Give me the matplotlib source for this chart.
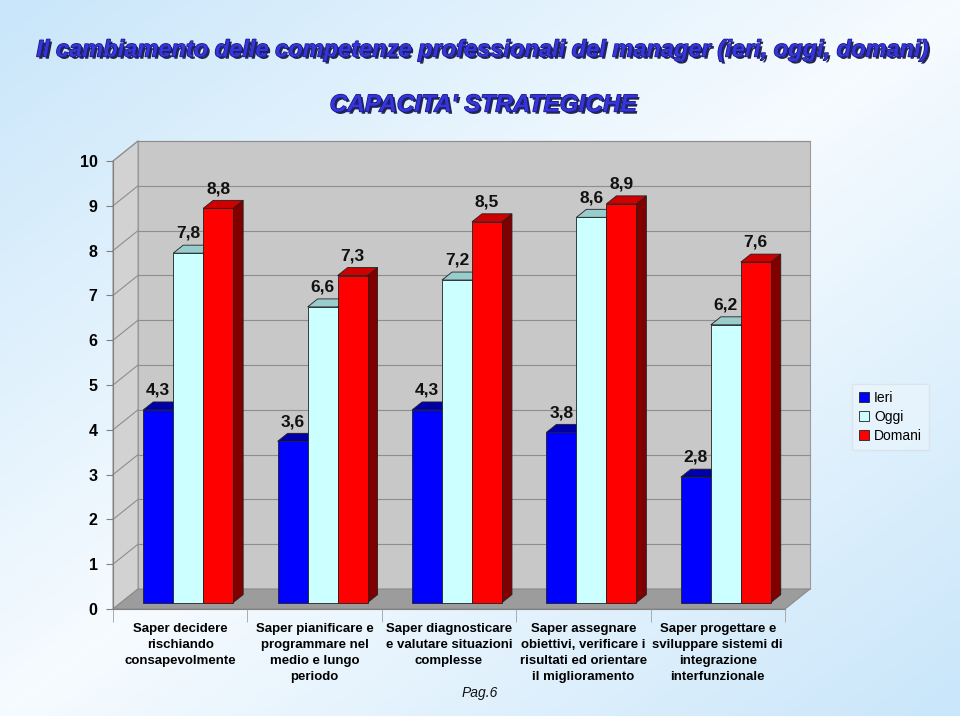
import numpy as np
import matplotlib.pyplot as plt
import matplotlib.patheffects as pe
from matplotlib.patches import Polygon
from matplotlib.colors import LinearSegmentedColormap

plt.rcParams['font.family'] = ['Liberation Sans', 'DejaVu Sans']

# Dati del grafico
categorie = ['Saper decidere\nrischiando\nconsapevolmente',
             'Saper pianificare e\nprogrammare nel\nmedio e lungo\nperiodo',
             'Saper diagnosticare\ne valutare situazioni\ncomplesse',
             'Saper assegnare\nobiettivi, verificare i\nrisultati ed orientare\nil miglioramento',
             'Saper progettare e\nsviluppare sistemi di\nintegrazione\ninterfunzionale']
serie = ['Ieri', 'Oggi', 'Domani']
ieri = [4.3, 3.6, 4.3, 3.8, 2.8]
oggi = [7.8, 6.6, 7.2, 8.6, 6.2]
domani = [8.8, 7.3, 8.5, 8.9, 7.6]
valori = [ieri, oggi, domani]

col_front = ['#0000ff', '#ccffff', '#ff0000']
col_top = ['#0000a8', '#99cccc', '#d00000']
col_side = ['#000080', '#6f9f9f', '#800000']

fig = plt.figure(figsize=(9.6, 7.16), dpi=100)

# sfondo sfumato
bg = fig.add_axes([0, 0, 1, 1], zorder=-10)
yy, xx = np.mgrid[0:1:200j, 0:1:200j]
t = (xx + yy) / 2.0
grad = np.abs(t - 0.5) * 2
cmap = LinearSegmentedColormap.from_list('bg', ['#f6fbff', '#c9e6fa'])
bg.imshow(grad, extent=[0, 1, 0, 1], aspect='auto', cmap=cmap, origin='upper')
bg.axis('off')

ax = fig.add_axes([113/960, 1 - 609/716, 672/960, 448/716])
ax.patch.set_visible(False)
ax.set_xlim(-0.5, 4.5)
ax.set_ylim(0, 10)

# profondita' 3D (unita' dati)
DX = 25 / 134.4
DY = 20 / 44.8
f0, f1 = 0.32, 0.72
w = 0.223

# pareti e pavimento
x0, x1 = -0.5, 4.5
ax.add_patch(Polygon([(x0 + DX, DY), (x1 + DX, DY), (x1 + DX, 10 + DY), (x0 + DX, 10 + DY)],
                     closed=True, fc='#c8c8c8', ec='#9a9a9a', lw=0.8, zorder=0.5, clip_on=False))
ax.add_patch(Polygon([(x0, 0), (x0 + DX, DY), (x0 + DX, 10 + DY), (x0, 10)],
                     closed=True, fc='#d2d2d2', ec='#9a9a9a', lw=0.8, zorder=0.5, clip_on=False))
ax.add_patch(Polygon([(x0, 0), (x1, 0), (x1 + DX, DY), (x0 + DX, DY)],
                     closed=True, fc='#9c9c9c', ec='#8a8a8a', lw=0.8, zorder=0.6, clip_on=False))
for g in range(1, 11):
    ax.plot([x0 + DX, x1 + DX], [g + DY, g + DY], color='#8e8e8e', lw=0.8, zorder=0.7, clip_on=False)
    ax.plot([x0, x0 + DX], [g, g + DY], color='#8e8e8e', lw=0.8, zorder=0.7, clip_on=False)

# barre
xc = np.arange(len(categorie))
contenitori = []
for k in range(3):
    bars = ax.bar(xc + (k - 1) * w + f0 * DX, valori[k], width=w, bottom=f0 * DY,
                  color=col_front[k], edgecolor='#202020', linewidth=0.6, label=serie[k])
    contenitori.append(bars)
    d = (f1 - f0) * DX
    e = (f1 - f0) * DY
    for i, r in enumerate(bars):
        o = i * 3 + k
        bx0 = r.get_x()
        bx1 = bx0 + r.get_width()
        by0 = r.get_y()
        by1 = by0 + r.get_height()
        r.set_zorder(2 + 0.02 * o + 0.01)
        ax.add_patch(Polygon([(bx1, by0), (bx1 + d, by0 + e), (bx1 + d, by1 + e), (bx1, by1)],
                             closed=True, fc=col_side[k], ec='#202020', lw=0.6,
                             zorder=2 + 0.02 * o, clip_on=False))
        ax.add_patch(Polygon([(bx0, by1), (bx1, by1), (bx1 + d, by1 + e), (bx0 + d, by1 + e)],
                             closed=True, fc=col_top[k], ec='#202020', lw=0.6,
                             zorder=2 + 0.02 * o, clip_on=False))
        ax.annotate(f'{valori[k][i]:.1f}'.replace('.', ','), (bx0 + r.get_width() / 2, by1 + e),
                    xytext=(0, 3), textcoords='offset points', ha='center', va='bottom',
                    fontsize=12.5, fontweight='bold', color='#111111', zorder=10)

# assi
for s in ['top', 'right']:
    ax.spines[s].set_visible(False)
for s in ['left', 'bottom']:
    ax.spines[s].set_color('#808080')
    ax.spines[s].set_zorder(1)
ax.set_yticks(range(11))
ax.set_yticklabels([str(v) for v in range(11)], fontsize=11.5, fontweight='bold')
ax.tick_params(axis='y', length=5, color='#808080', pad=6)
ax.set_xticks(xc)
ax.set_xticklabels(categorie, fontsize=9.5, fontweight='bold', linespacing=1.45)
ax.set_xticks(np.arange(-0.5, 5, 1), minor=True)
ax.tick_params(axis='x', which='major', length=0, pad=10)
ax.tick_params(axis='x', which='minor', length=9, color='#a0a0a0')

# legenda
fig.legend(handles=contenitori, labels=serie, loc='upper left',
           bbox_to_anchor=(852/960, 1 - 384/716), borderaxespad=0, fancybox=False,
           edgecolor='#c0c0c0', facecolor='white', framealpha=0.25, handlelength=0.7,
           handleheight=0.7, handletextpad=0.4, fontsize=10, borderpad=0.5, labelspacing=0.35)

# titoli
effetti = [pe.withSimplePatchShadow(offset=(1.6, -1.6), shadow_rgbFace='#10103a', alpha=0.9),
           pe.withStroke(linewidth=1.0, foreground='#161680')]
fam_titolo = ['Liberation Sans Narrow', 'Liberation Sans']
fig.text(0.503, 1 - 50/716, 'Il cambiamento delle competenze professionali del manager (ieri, oggi, domani)',
         ha='center', va='center', fontsize=17, fontweight='bold', style='italic',
         color='#3636d8', family=fam_titolo, path_effects=effetti)
fig.text(0.503, 1 - 105/716, "CAPACITA' STRATEGICHE",
         ha='center', va='center', fontsize=17.5, fontweight='bold', style='italic',
         color='#3636d8', family=fam_titolo, path_effects=effetti)
fig.text(480/960, 1 - 693/716, 'Pag.6', ha='center', va='center', fontsize=10,
         style='italic', family=fam_titolo, color='#111111')

fig.savefig('out.png', dpi=100)
